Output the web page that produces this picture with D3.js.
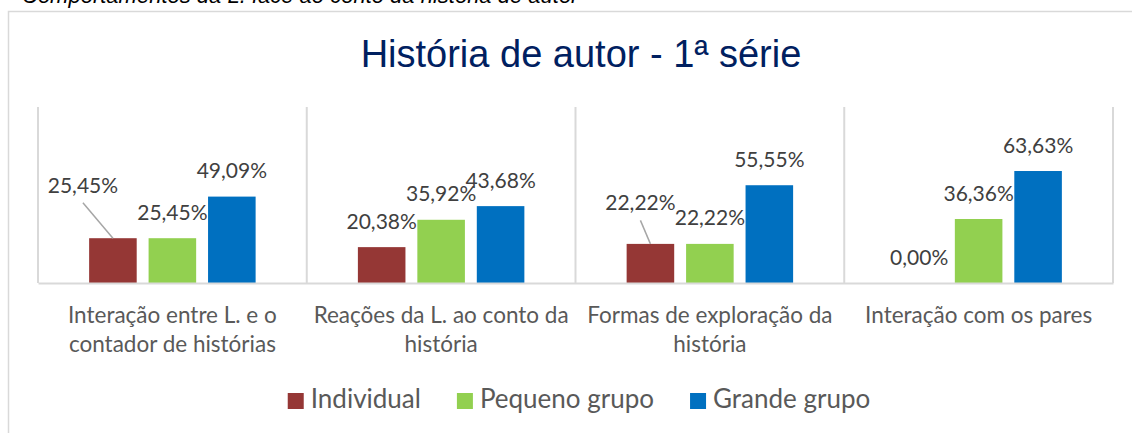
<!DOCTYPE html>
<html>
<head>
<meta charset="utf-8">
<script src="https://cdn.jsdelivr.net/npm/d3@7"></script>
<style>
  html, body { margin: 0; padding: 0; background: #fff; }
  svg { display: block; }
</style>
</head>
<body>
<div id="chart"></div>
<script>
// data
const categories = [
  "Interação entre L. e o\ncontador de histórias",
  "Reações da L. ao conto da\nhistória",
  "Formas de exploração da\nhistória",
  "Interação com os pares"
];
const seriesNames = ["Individual", "Pequeno grupo", "Grande grupo"];
const individual = [25.45, 20.38, 22.22, 0.00];
const pequenoGrupo = [25.45, 35.92, 22.22, 36.36];
const grandeGrupo = [49.09, 43.68, 55.55, 63.63];
const title = "História de autor - 1ª série";
const caption = "Comportamentos da L. face ao conto da história de autor";

const seriesValues = [individual, pequenoGrupo, grandeGrupo];
const colors = ["#953735", "#92d050", "#0070c0"];

// labels that were dragged away from their bar (series, category, shift in px)
const movedLabels = [
  { s: 0, c: 0, dx: -30, dy: -27 },
  { s: 0, c: 2, dx: -10, dy: -15 }
];

const width = 1132, height = 433;
const plot = { left: 38, right: 1113, top: 107, bottom: 283 };

const svg = d3.select("#chart").append("svg")
  .attr("width", width)
  .attr("height", height);

// caption above the chart frame, cut by the top edge
svg.append("text")
  .attr("x", 22).attr("y", 3)
  .attr("font-family", "Liberation Sans, Arial, sans-serif")
  .attr("font-style", "italic")
  .attr("font-size", 22)
  .attr("fill", "#000")
  .text(caption);

// chart frame
svg.append("rect")
  .attr("x", 8.5).attr("y", 11.5)
  .attr("width", 1160).attr("height", 440)
  .attr("fill", "#fff")
  .attr("stroke", "#d9d9d9")
  .attr("stroke-width", 1.5);

// title
svg.append("text")
  .attr("x", 581).attr("y", 67)
  .attr("text-anchor", "middle")
  .attr("font-family", "Liberation Sans, Arial, sans-serif")
  .attr("font-size", 38)
  .attr("fill", "#002060")
  .text(title);

// scales
const x0 = d3.scaleBand()
  .domain(categories)
  .range([plot.left, plot.right])
  .padding(0);

const x1 = d3.scaleBand()
  .domain(seriesNames)
  .range([0, x0.bandwidth()])
  .paddingInner(0.2)
  .paddingOuter(0.86);

const y = d3.scaleLinear()
  .domain([0, 100])
  .range([plot.bottom, plot.top]);

// vertical separators between categories
const edges = categories.map(c => x0(c)).concat([plot.right]);
svg.append("g")
  .selectAll("line")
  .data(edges)
  .join("line")
  .attr("x1", d => d).attr("x2", d => d)
  .attr("y1", y(100)).attr("y2", y(0))
  .attr("stroke", "#d9d9d9")
  .attr("stroke-width", 2);

// bars
const rows = [];
seriesValues.forEach((vals, s) => {
  vals.forEach((v, c) => rows.push({ s, c, v }));
});

svg.append("g")
  .selectAll("rect")
  .data(rows)
  .join("rect")
  .attr("x", d => x0(categories[d.c]) + x1(seriesNames[d.s]))
  .attr("y", d => y(d.v))
  .attr("width", x1.bandwidth())
  .attr("height", d => y(0) - y(d.v))
  .attr("fill", d => colors[d.s]);

// data labels
const fmt = v => d3.format(".2f")(v).replace(".", ",") + "%";
const labelPos = d => {
  const cx = x0(categories[d.c]) + x1(seriesNames[d.s]) + x1.bandwidth() / 2;
  const by = y(d.v) - 18.5;
  const m = movedLabels.find(o => o.s === d.s && o.c === d.c);
  return { cx, by, x: cx + (m ? m.dx : 0), y: by + (m ? m.dy : 0), moved: !!m };
};

// leader lines for moved labels
svg.append("g")
  .selectAll("line")
  .data(rows.filter(d => labelPos(d).moved))
  .join("line")
  .attr("x1", d => labelPos(d).x)
  .attr("y1", d => labelPos(d).y + 10)
  .attr("x2", d => labelPos(d).cx)
  .attr("y2", d => y(d.v))
  .attr("stroke", "#a6a6a6")
  .attr("stroke-width", 1.5);

svg.append("g")
  .selectAll("text")
  .data(rows)
  .join("text")
  .attr("x", d => labelPos(d).x)
  .attr("y", d => labelPos(d).y)
  .attr("text-anchor", "middle")
  .attr("font-family", "Lato, sans-serif")
  .attr("font-size", 21)
  .attr("fill", "#404040")
  .text(d => fmt(d.v));

// category axis
const xAxis = svg.append("g")
  .attr("transform", `translate(0,${plot.bottom})`)
  .call(d3.axisBottom(x0).tickSize(0).tickSizeOuter(0).tickPadding(0));

xAxis.select(".domain")
  .attr("stroke", "#d9d9d9")
  .attr("stroke-width", 2);

xAxis.selectAll(".tick text")
  .attr("font-family", "Lato, sans-serif")
  .attr("font-size", 22.5)
  .attr("fill", "#595959")
  .attr("dy", null)
  .attr("y", 40)
  .each(function (d) {
    const t = d3.select(this);
    const lines = d.split("\n");
    t.text(null);
    lines.forEach((ln, i) => {
      t.append("tspan")
        .attr("x", 0)
        .attr("y", 40 + i * 29)
        .text(ln);
    });
  });

// legend
const legend = svg.append("g").attr("transform", "translate(0,408)");
const items = legend.selectAll("g")
  .data(seriesNames)
  .join("g");

items.append("rect")
  .attr("y", -15)
  .attr("width", 16).attr("height", 16)
  .attr("fill", (d, i) => colors[i]);

items.append("text")
  .attr("x", 23)
  .attr("font-family", "Lato, sans-serif")
  .attr("font-size", 26)
  .attr("fill", "#595959")
  .text(d => d);

let cursor = 0;
const offsets = [];
items.each(function () {
  offsets.push(cursor);
  cursor += 23 + this.querySelector("text").getComputedTextLength() + 36;
});
const total = cursor - 36;
const startX = 579 - total / 2;
items.attr("transform", (d, i) => `translate(${startX + offsets[i]},0)`);
</script>
</body>
</html>
